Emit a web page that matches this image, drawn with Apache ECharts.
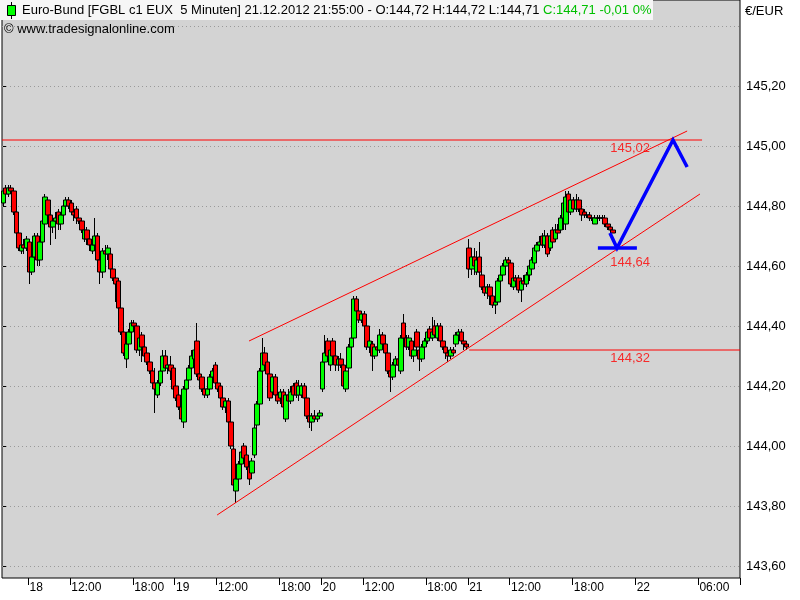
<!DOCTYPE html>
<html><head><meta charset="utf-8">
<script src="https://cdn.jsdelivr.net/npm/echarts@6/dist/echarts.min.js"></script>
<style>html,body{margin:0;padding:0;background:#fff}#c{width:800px;height:600px}</style>
</head><body><div id="c"></div><script>
// ---- time slots (15-minute bars, trading session 08:00-22:00) ----
const sessions = [["17.12","19:30",10],["18.12","08:00",56],["19.12","08:00",56],["20.12","08:00",56],["21.12","08:00",56]];
const futureStart = ["21.12","22:00"];
const futureSlots = 48;

// ---- OHLC values ----
const opens = [
144.81,144.86,144.84,144.86,144.85,144.78,144.71,144.65,144.67,144.66,
144.68,144.58,144.63,144.70,144.62,144.68,144.74,144.82,144.77,144.73,
144.75,144.78,144.74,144.77,144.80,144.82,144.81,144.78,144.79,144.76,
144.75,144.69,144.72,144.69,144.65,144.67,144.70,144.62,144.58,144.65,
144.64,144.64,144.59,144.56,144.55,144.46,144.38,144.29,144.34,144.38,
144.41,144.40,144.32,144.37,144.33,144.31,144.28,144.25,144.21,144.17,
144.21,144.25,144.30,144.26,144.27,144.26,144.20,144.17,144.13,144.08,
144.19,144.22,144.26,144.29,144.35,144.24,144.23,144.19,144.17,144.19,
144.23,144.27,144.21,144.20,144.16,144.13,144.15,144.08,143.99,143.85,
143.89,143.94,144.00,143.97,143.93,143.91,143.97,144.07,144.14,144.25,
144.31,144.28,144.24,144.18,144.23,144.17,144.16,144.18,144.09,144.17,
144.15,144.20,144.21,144.17,144.17,144.20,144.16,144.10,144.08,144.10,
144.09,144.10,144.19,144.28,144.35,144.27,144.35,144.30,144.27,144.29,
144.27,144.19,144.26,144.33,144.36,144.49,144.45,144.42,144.44,144.40,
144.33,144.34,144.30,144.33,144.32,144.37,144.34,144.31,144.25,144.23,
144.27,144.29,144.25,144.41,144.36,144.33,144.35,144.30,144.38,144.32,
144.29,144.33,144.35,144.39,144.36,144.40,144.36,144.40,144.35,144.33,
144.31,144.30,144.32,144.34,144.37,144.38,144.35,144.34,144.66,144.59,
144.63,144.58,144.63,144.57,144.53,144.51,144.53,144.50,144.47,144.48,
144.55,144.57,144.60,144.62,144.61,144.53,144.56,144.56,144.52,144.55,
144.54,144.57,144.59,144.61,144.65,144.67,144.70,144.67,144.70,144.66,
144.72,144.69,144.72,144.72,144.76,144.74,144.84,144.78,144.82,144.79,
144.82,144.79,144.78,144.77,144.77,144.76,144.74,144.76,144.76,144.76,
144.76,144.74,144.73,144.72];
const highs = [
144.86,144.87,144.87,144.87,144.86,144.78,144.72,144.68,144.69,144.70,
144.69,144.64,144.71,144.71,144.69,144.76,144.84,144.83,144.78,144.76,
144.78,144.79,144.78,144.81,144.83,144.83,144.82,144.79,144.80,144.77,
144.76,144.73,144.73,144.70,144.68,144.76,144.71,144.63,144.66,144.67,
144.67,144.65,144.60,144.57,144.56,144.46,144.39,144.35,144.39,144.42,
144.42,144.41,144.38,144.38,144.34,144.32,144.29,144.26,144.26,144.22,
144.26,144.32,144.32,144.28,144.30,144.27,144.22,144.18,144.17,144.20,
144.23,144.27,144.32,144.33,144.41,144.27,144.24,144.21,144.20,144.24,
144.26,144.28,144.22,144.21,144.17,144.16,144.16,144.08,144.00,143.90,
143.95,144.00,144.01,143.98,143.95,143.96,144.07,144.15,144.26,144.36,
144.33,144.29,144.25,144.24,144.24,144.19,144.19,144.19,144.18,144.19,
144.20,144.21,144.22,144.22,144.21,144.21,144.17,144.12,144.11,144.12,
144.11,144.12,144.29,144.37,144.36,144.33,144.36,144.31,144.30,144.31,
144.28,144.26,144.34,144.38,144.50,144.50,144.46,144.45,144.45,144.41,
144.36,144.35,144.34,144.35,144.39,144.38,144.35,144.32,144.26,144.28,
144.30,144.30,144.37,144.44,144.37,144.37,144.36,144.33,144.39,144.33,
144.34,144.36,144.39,144.40,144.43,144.42,144.41,144.41,144.36,144.34,
144.32,144.33,144.33,144.38,144.39,144.39,144.36,144.35,144.69,144.66,
144.66,144.65,144.68,144.58,144.54,144.54,144.54,144.51,144.49,144.56,
144.58,144.61,144.63,144.63,144.62,144.57,144.57,144.57,144.56,144.57,
144.58,144.61,144.63,144.67,144.68,144.70,144.71,144.72,144.71,144.72,
144.73,144.74,144.74,144.77,144.82,144.85,144.85,144.84,144.83,144.84,
144.83,144.80,144.79,144.78,144.78,144.77,144.77,144.77,144.77,144.77,
144.77,144.75,144.74,144.72];
const lows = [
144.80,144.83,144.83,144.84,144.77,144.70,144.65,144.64,144.64,144.65,
144.54,144.57,144.60,144.60,144.60,144.66,144.73,144.76,144.67,144.71,
144.69,144.72,144.72,144.76,144.79,144.79,144.77,144.75,144.74,144.74,
144.71,144.68,144.67,144.65,144.64,144.66,144.61,144.54,144.56,144.62,
144.62,144.58,144.55,144.48,144.45,144.37,144.30,144.26,144.33,144.37,
144.38,144.31,144.30,144.28,144.29,144.27,144.24,144.20,144.11,144.16,
144.20,144.24,144.25,144.24,144.22,144.18,144.15,144.12,144.08,144.06,
144.18,144.21,144.25,144.28,144.23,144.21,144.18,144.16,144.16,144.18,
144.22,144.20,144.18,144.15,144.12,144.11,144.07,143.99,143.86,143.81,
143.88,143.92,143.95,143.92,143.87,143.90,143.96,144.06,144.13,144.24,
144.25,144.23,144.15,144.17,144.16,144.14,144.14,144.12,144.08,144.12,
144.14,144.15,144.16,144.15,144.16,144.14,144.09,144.06,144.05,144.08,
144.08,144.09,144.18,144.27,144.29,144.25,144.29,144.25,144.25,144.26,
144.19,144.18,144.25,144.32,144.35,144.44,144.41,144.41,144.39,144.32,
144.31,144.25,144.29,144.30,144.31,144.33,144.30,144.24,144.18,144.22,
144.25,144.26,144.24,144.35,144.32,144.32,144.29,144.28,144.32,144.25,
144.28,144.32,144.34,144.35,144.35,144.36,144.35,144.34,144.32,144.29,
144.28,144.29,144.30,144.33,144.36,144.34,144.32,144.32,144.56,144.57,
144.57,144.57,144.56,144.52,144.50,144.49,144.47,144.46,144.44,144.47,
144.54,144.56,144.59,144.59,144.53,144.52,144.53,144.51,144.48,144.53,
144.53,144.55,144.58,144.60,144.63,144.66,144.66,144.66,144.63,144.65,
144.67,144.68,144.70,144.71,144.72,144.72,144.77,144.77,144.78,144.78,
144.78,144.75,144.76,144.76,144.75,144.75,144.74,144.75,144.75,144.75,
144.73,144.72,144.71,144.71];
const closes = [
144.85,144.84,144.86,144.85,144.78,144.71,144.66,144.67,144.66,144.69,
144.58,144.63,144.70,144.62,144.68,144.75,144.83,144.77,144.73,144.75,
144.76,144.74,144.77,144.80,144.82,144.80,144.78,144.77,144.76,144.75,
144.72,144.72,144.69,144.67,144.67,144.70,144.62,144.58,144.65,144.64,
144.66,144.59,144.56,144.54,144.46,144.38,144.31,144.34,144.38,144.41,
144.40,144.32,144.36,144.33,144.30,144.28,144.25,144.21,144.19,144.21,
144.25,144.30,144.26,144.27,144.25,144.19,144.16,144.13,144.09,144.19,
144.22,144.26,144.30,144.32,144.24,144.22,144.19,144.17,144.19,144.23,
144.25,144.21,144.19,144.16,144.13,144.15,144.08,144.00,143.87,143.89,
143.94,143.98,143.96,143.93,143.89,143.95,144.06,144.14,144.25,144.31,
144.27,144.24,144.16,144.23,144.17,144.15,144.18,144.13,144.17,144.15,
144.18,144.17,144.17,144.20,144.20,144.16,144.10,144.08,144.10,144.09,
144.10,144.11,144.28,144.31,144.30,144.32,144.30,144.27,144.29,144.27,
144.20,144.25,144.33,144.36,144.49,144.45,144.42,144.44,144.40,144.33,
144.35,144.30,144.33,144.32,144.37,144.34,144.31,144.25,144.23,144.27,
144.29,144.27,144.36,144.36,144.33,144.36,144.30,144.32,144.33,144.29,
144.33,144.35,144.38,144.36,144.38,144.37,144.40,144.35,144.33,144.31,
144.30,144.32,144.31,144.37,144.38,144.35,144.34,144.33,144.59,144.63,
144.60,144.62,144.58,144.53,144.51,144.53,144.50,144.47,144.48,144.55,
144.57,144.60,144.62,144.61,144.54,144.56,144.55,144.52,144.55,144.54,
144.57,144.60,144.62,144.66,144.67,144.68,144.67,144.70,144.64,144.70,
144.68,144.72,144.71,144.76,144.81,144.83,144.78,144.82,144.79,144.82,
144.79,144.77,144.77,144.77,144.76,144.76,144.76,144.76,144.76,144.76,
144.74,144.73,144.72,144.71];

// ---- axis labels ----
const xTickLabels = [
  ["18.12 08:00","18"],["18.12 12:00","12:00"],["18.12 18:00","18:00"],
  ["19.12 08:00","19"],["19.12 12:00","12:00"],["19.12 18:00","18:00"],
  ["20.12 08:00","20"],["20.12 12:00","12:00"],["20.12 18:00","18:00"],
  ["21.12 08:00","21"],["21.12 12:00","12:00"],["21.12 18:00","18:00"],
  ["22.12 00:00","22"],["22.12 06:00","06:00"]];
const gridValues = [143.6,143.8,144.0,144.2,144.4,144.6,144.8,145.0,145.2,145.4];
const yLabelValues = [143.6,143.8,144.0,144.2,144.4,144.6,144.8,145.0,145.2];

// ---- drawn analysis (x in bar units, y in price) ----
const upperChannel = [[94.4,144.35],[261.8,145.05]];
const lowerChannel = [[82.2,143.77],[266.7,144.84]];
const targetLine = [[0,145.02],[267.5,145.02]];
const supportLine = [[178.5,144.32],[282,144.32]];
const projectionBase = [[227.7,144.66],[242.6,144.66]];
const projectionPath = [[232.3,144.71],[235.0,144.66],[256.4,145.02],[261.8,144.93]];
const levelLabels = [[240,145.02],[240,144.64],[240,144.32]];

// ---- build categories ----
function pad(n){return (n<10?'0':'')+n;}
const categories = [];
sessions.forEach(([day,start,n])=>{
  let [h,m] = start.split(':').map(Number);
  for(let k=0;k<n;k++){ categories.push(day+' '+pad(h)+':'+pad(m)); m+=15; if(m>=60){m-=60;h++;} }
});
(function(){
  let d = parseInt(futureStart[0]); let [h,m] = futureStart[1].split(':').map(Number);
  for(let k=0;k<futureSlots;k++){
    categories.push(pad(d)+'.12 '+pad(h)+':'+pad(m));
    m+=15; if(m>=60){m-=60;h++;} if(h>=24){h-=24;d++;}
  }
})();
const tickMap = {}; xTickLabels.forEach(([k,t])=>tickMap[k]=t);
const ohlc = opens.map((o,i)=>[o,closes[i],lows[i],highs[i]]);
const fmt = v => v.toFixed(2).replace('.',',');
const FONT = "'Liberation Sans', Arial, sans-serif";

const chart = echarts.init(document.getElementById('c'), null, {renderer:'canvas'});
const redLine = (data)=>({type:'line', xAxisIndex:1, yAxisIndex:0, data, symbol:'none', silent:true, z:5,
  lineStyle:{color:'#ff0000', width:1}, animation:false});
chart.setOption({
  animation:false,
  backgroundColor:'#ffffff',
  grid:{left:2, right:60, top:0, bottom:22, show:true, backgroundColor:'#d3d3d3', borderColor:'#000', borderWidth:1},
  xAxis:[{
    type:'category', data:categories, boundaryGap:true,
    axisLine:{show:false},
    axisTick:{show:true, length:7, interval:(i,v)=>tickMap[v]!==undefined, lineStyle:{color:'#000'}},
    axisLabel:{show:true, interval:(i,v)=>tickMap[v]!==undefined, formatter:v=>tickMap[v]||'',
      align:'left', margin:4, color:'#000', fontSize:12, fontFamily:FONT},
    splitLine:{show:false}
  },{
    type:'value', min:0, max:categories.length, show:false
  }],
  yAxis:[{
    type:'value', position:'right', min:143.56, max:145.4867, scale:true,
    axisLine:{show:false},
    axisTick:{show:true, inside:false, length:4, customValues:yLabelValues, lineStyle:{color:'#000'}},
    axisLabel:{show:true, customValues:yLabelValues, formatter:v=>fmt(v), margin:6, color:'#000', fontSize:13, fontFamily:FONT},
    splitLine:{show:false}
  }],
  series:[
    {type:'candlestick', data:ohlc, barWidth:5, z:3,
     itemStyle:{color:'#00ff00', color0:'#ff0000', borderColor:'#000', borderColor0:'#000', borderWidth:1},
     markLine:{silent:true, symbol:'none', label:{show:false}, z:1,
       lineStyle:{color:'#9a9a9a', type:[1,3], width:1},
       data:gridValues.map(v=>({yAxis:v}))}
    },
    redLine(targetLine), redLine(supportLine), redLine(upperChannel), redLine(lowerChannel),
    {type:'line', xAxisIndex:1, yAxisIndex:0, data:projectionBase, symbol:'none', silent:true, z:6,
     lineStyle:{color:'#0000ff', width:3.5}},
    {type:'line', xAxisIndex:1, yAxisIndex:0, data:projectionPath, symbol:'none', silent:true, z:6,
     lineStyle:{color:'#0000ff', width:3.5, join:'miter'}},
    {type:'scatter', xAxisIndex:1, yAxisIndex:0, data:levelLabels, symbolSize:1, z:7,
     itemStyle:{color:'rgba(0,0,0,0)'},
     label:{show:true, position:'inside', offset:[0,8], formatter:p=>fmt(p.value[1]),
       color:'#ff0000', fontSize:13, fontFamily:FONT}}
  ],
  graphic:[
    {type:'rect', left:0, top:0, shape:{width:653, height:20}, style:{fill:'#f6f6f6'}, z:100},
    {type:'line', shape:{x1:11.5,y1:2,x2:11.5,y2:19}, style:{stroke:'#000', lineWidth:1}, z:101},
    {type:'rect', shape:{x:7.5,y:5.5,width:8,height:10}, style:{fill:'#00ff00', stroke:'#000', lineWidth:1}, z:102},
    {type:'text', x:22, y:4, z:103, style:{
      text:'{a|Euro-Bund [FGBL c1 EUX  5 Minuten] 21.12.2012 21:55:00 - O:144,72 H:144,72 L:144,71 }{g|C:144,71 -0,01 0%}',
      rich:{a:{fill:'#000', fontSize:13, fontFamily:FONT}, g:{fill:'#00c000', fontSize:13, fontFamily:FONT}},
      fontSize:13, fontFamily:FONT}},
    {type:'text', x:4, y:23, z:103, style:{text:'© www.tradesignalonline.com', fill:'#000', fontSize:13, fontFamily:FONT}},
    {type:'text', x:745, y:5, z:103, style:{text:'€/EUR', fill:'#000', fontSize:13, fontFamily:FONT}}
  ]
});
</script></body></html>
